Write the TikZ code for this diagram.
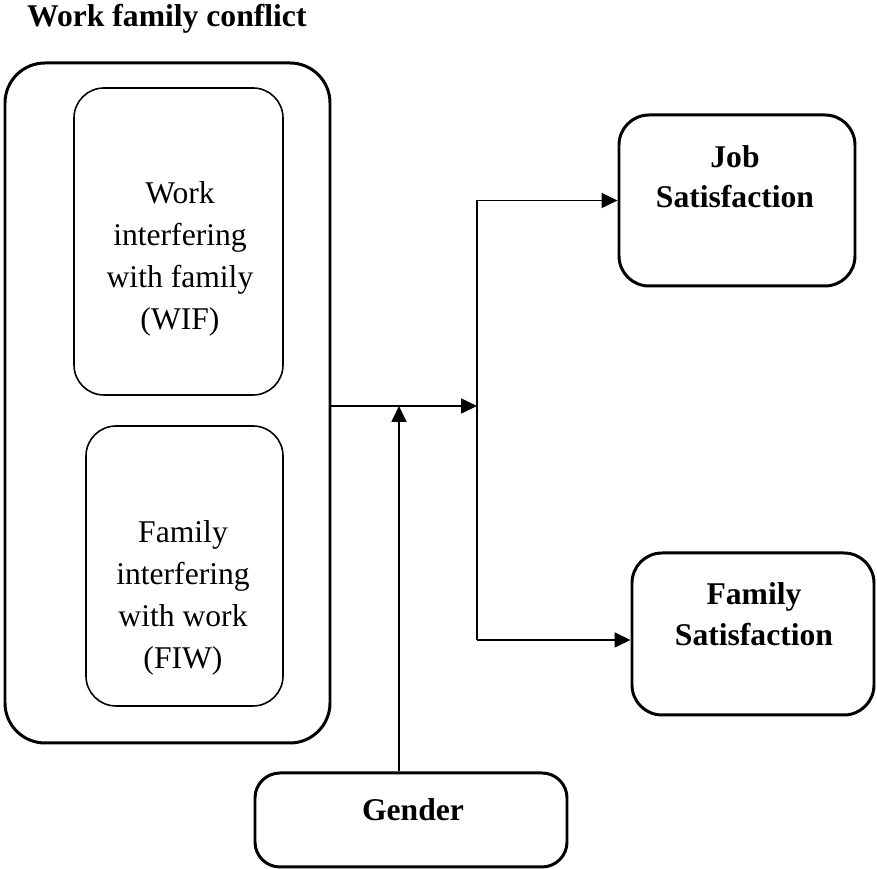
\documentclass[tikz,border=0pt]{standalone}
\usepackage{fontspec}
\setmainfont{Liberation Serif}
\usetikzlibrary{arrows.meta}
\tikzset{
  thickbox/.style={draw, rounded corners=0.6cm, line width=1.7pt, inner sep=0pt},
  thinbox/.style={draw, rounded corners=0.6cm, line width=0.9pt, inner sep=0pt},
  txt/.style={align=center, font=\fontsize{18}{24}\selectfont},
  arr/.style={line width=1pt, -{Triangle[length=0.32cm,width=0.3cm]}}
}
\begin{document}
\begin{tikzpicture}
\useasboundingbox (0,0) rectangle (17.54,17.38);
\node[txt, anchor=base west, font=\fontsize{18}{24}\selectfont\bfseries] (title) at (0.42,16.84) {Work family conflict};

\node[thickbox, rounded corners=0.8cm, minimum width=6.5cm, minimum height=13.6cm] (wfc) at (3.35,9.32) {};
\node[thinbox, minimum width=4.18cm, minimum height=6.14cm] (wif) at (3.57,12.55) {};
\node[thinbox, minimum width=3.94cm, minimum height=5.6cm] (fiw) at (3.69,6.06) {};
\node[txt] (wiftext) at (3.6,12.2) {Work\\interfering\\with family\\(WIF)};
\node[txt] (fiwtext) at (3.66,5.42) {Family\\interfering\\with work\\(FIW)};

\node[thickbox, minimum width=4.72cm, minimum height=3.42cm] (job) at (14.74,13.37) {};
\node[txt, font=\fontsize{18}{23}\selectfont\bfseries] (jobtext) at (14.7,13.85) {Job\\Satisfaction};
\node[thickbox, minimum width=4.84cm, minimum height=3.24cm] (fam) at (15.06,4.7) {};
\node[txt, font=\fontsize{18}{23}\selectfont\bfseries] (famtext) at (15.08,5.1) {Family\\Satisfaction};
\node[thickbox, rounded corners=0.5cm, minimum width=6.24cm, minimum height=1.88cm] (gender) at (8.22,0.98) {};
\node[txt, font=\fontsize{18}{24}\selectfont\bfseries] (gendertext) at (8.26,1.18) {Gender};

\coordinate (split) at (9.54,9.26);
\coordinate (top) at (9.54,13.37);
\coordinate (bot) at (9.54,4.58);
\coordinate (mod) at (7.98,9.26);

\draw[arr] (wfc.east |- split) -- (split);
\draw[arr] (gender.north -| mod) -- (mod);
\draw[line width=1pt] (top) -- (bot);
\draw[arr] (top) -- (job.west);
\draw[arr] (bot) -- (bot -| fam.west);
\end{tikzpicture}
\end{document}
